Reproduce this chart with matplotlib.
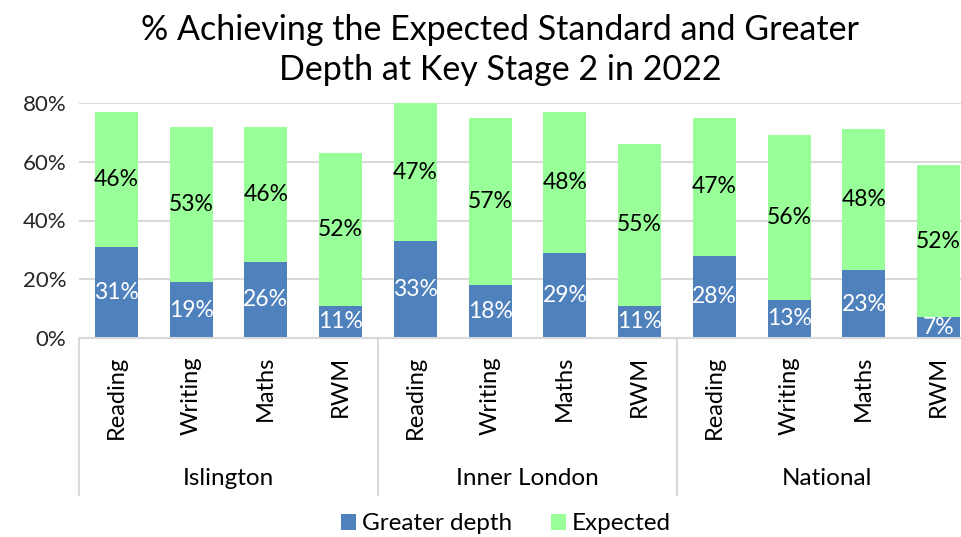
import matplotlib.pyplot as plt
from matplotlib.transforms import blended_transform_factory

plt.rcParams['font.family'] = ['Lato', 'DejaVu Sans']

# Chart data
groups = ["Islington", "Inner London", "National"]
subjects = ["Reading", "Writing", "Maths", "RWM"]
greater_depth = [31, 19, 26, 11, 33, 18, 29, 11, 28, 13, 23, 7]
expected = [46, 53, 46, 52, 47, 57, 48, 55, 47, 56, 48, 52]

blue = "#4F81BD"
green = "#99FF99"
grid_grey = "#D9D9D9"
text_col = "#262626"

fig = plt.figure(figsize=(9.62, 5.37), dpi=100)
ax = fig.add_axes([79 / 962, 1 - 338 / 537, (976 - 79) / 962, (338 - 103) / 537])

x = list(range(len(greater_depth)))
bw = 0.575
ax.bar(x, greater_depth, width=bw, color=blue, label="Greater depth", zorder=2)
ax.bar(x, expected, width=bw, bottom=greater_depth, color=green,
       label="Expected", zorder=2)

# Data labels centred in each segment
for i in x:
    g = greater_depth[i]
    e = expected[i]
    ax.text(i, g / 2, f"{g}%", ha="center", va="center", color="white",
            fontsize=16.5, zorder=3)
    ax.text(i, g + e / 2, f"{e}%", ha="center", va="center", color="black",
            fontsize=16.5, zorder=3)

ax.set_ylim(0, 80)
ax.set_xlim(-0.5, len(x) - 0.5)
ax.set_yticks([0, 20, 40, 60, 80])
ax.set_yticklabels(["0%", "20%", "40%", "60%", "80%"])
ax.yaxis.grid(True, color=grid_grey, linewidth=1.5, zorder=0)
ax.set_axisbelow(True)

for s in ["top", "right", "left"]:
    ax.spines[s].set_visible(False)
ax.spines["bottom"].set_color(grid_grey)
ax.spines["bottom"].set_linewidth(1.5)

ax.set_xticks(x)
ax.set_xticklabels(subjects * len(groups), rotation=90, va="top")
ax.tick_params(axis="x", length=0, pad=13, labelsize=17, labelcolor="black")
ax.tick_params(axis="y", length=0, pad=9, labelsize=16, labelcolor=text_col)

# Group separators and group labels under the category axis
trans = blended_transform_factory(ax.transData, ax.transAxes)
n = len(subjects)
for k in range(len(groups) + 1):
    xs = k * n - 0.5
    ax.plot([xs, xs], [0, -0.668], transform=trans, color=grid_grey,
            linewidth=1.5, clip_on=False)
for k, name in enumerate(groups):
    ax.text(k * n + (n - 1) / 2, -0.596, name, transform=trans, ha="center",
            va="center", fontsize=17.5, color="black")

fig.text(500 / 962, 1 - 50 / 537,
         "% Achieving the Expected Standard and Greater\nDepth at Key Stage 2 in 2022",
         ha="center", va="center", fontsize=24.5, color="black",
         linespacing=1.3)

fig.legend(loc="center", bbox_to_anchor=(506 / 962, 1 - 524 / 537), ncol=2,
           frameon=False, fontsize=17.5, handlelength=0.6, handleheight=0.6,
           handletextpad=0.25, columnspacing=1.6)

fig.savefig("out.png", dpi=100)
